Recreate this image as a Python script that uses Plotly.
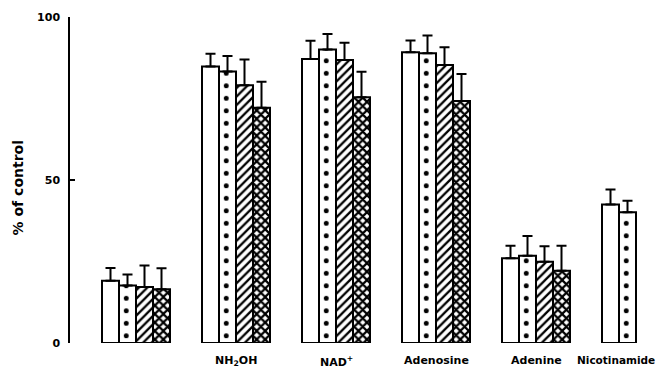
import plotly.graph_objects as go

# Group positions along the x axis (one slot per treatment)
groups = ["", "NH<sub>2</sub>OH", "NAD<sup>+</sup>", "Adenosine", "Adenine", "Nicotinamide"]
group_pos = [0, 1, 2, 3, 4, 5]

# Mean values (% of control) for the four conditions in each group
cond_a = [19.1, 84.8, 87.1, 89.2, 26.0, 42.5]
cond_b = [17.6, 83.3, 90.0, 88.9, 26.8, 40.1]
cond_c = [17.2, 79.1, 86.8, 85.3, 24.9, None]
cond_d = [16.5, 72.2, 75.4, 74.2, 22.2, None]

# Upper error (S.D.)
err_a = [3.9, 3.9, 5.6, 3.6, 3.8, 4.6]
err_b = [3.4, 4.7, 4.8, 5.4, 6.0, 3.5]
err_c = [6.6, 7.9, 5.3, 5.4, 4.8, None]
err_d = [6.4, 7.9, 7.8, 8.3, 7.6, None]

# Category label positions (Nicotinamide is centred under its two bars)
label_pos = [1, 2, 3, 4, 4.8]
label_size = [11, 11, 11, 11, 10.5]
label_text = groups[1:]

y_ticks = [0, 50, 100]

FONT = "DejaVu Sans"
INK = "black"

series = [
    (cond_a, err_a, dict(shape="")),
    (cond_b, err_b, dict(shape=".", size=12.5, solidity=0.12)),
    (cond_c, err_c, dict(shape="/", size=6, solidity=0.38)),
    (cond_d, err_d, dict(shape="x", size=6, solidity=0.6)),
]

fig = go.Figure()
for vals, errs, pat in series:
    pattern = dict(fgcolor=INK, bgcolor="white", fillmode="replace", **pat)
    fig.add_trace(go.Bar(
        x=group_pos,
        y=vals,
        marker=dict(color="white", line=dict(color=INK, width=2), pattern=pattern),
        error_y=dict(type="data", array=errs, arrayminus=[0] * len(errs),
                     symmetric=False, color=INK, thickness=2, width=5),
        showlegend=False,
    ))

fig.update_layout(
    width=658, height=369,
    margin=dict(l=70, r=0, t=17, b=26),
    paper_bgcolor="white", plot_bgcolor="white",
    barmode="group", bargap=0.32, bargroupgap=0,
    font=dict(family=FONT, color=INK, size=11),
)

fig.update_xaxes(
    range=[-0.66, 5.22],
    showline=False, showgrid=False, zeroline=False, ticks="",
    showticklabels=False,
)

fig.update_yaxes(
    range=[0, 100],
    showline=True, linecolor=INK, linewidth=1.5,
    showgrid=False, zeroline=False,
    ticks="inside", ticklen=5, tickwidth=1.5, tickcolor=INK,
    tickvals=y_ticks, ticktext=[f"<b>{v}</b>" for v in y_ticks],
    tickfont=dict(family=FONT, size=11, color=INK),
    ticklabelstandoff=6,
)

# Category labels beneath the groups
for pos, txt, size in zip(label_pos, label_text, label_size):
    fig.add_annotation(
        text=f"<b>{txt}</b>", x=pos, y=0, xref="x", yref="y",
        xanchor="center", yanchor="top", yshift=-9, showarrow=False,
        font=dict(family=FONT, size=size, color=INK),
    )

# Rotated y-axis title
fig.add_annotation(
    text="<b>% of control</b>", textangle=-90,
    xref="paper", yref="paper", x=-0.088, y=0.475,
    xanchor="center", yanchor="middle", showarrow=False,
    font=dict(family=FONT, size=14, color=INK),
)

fig.write_html("out.html")
